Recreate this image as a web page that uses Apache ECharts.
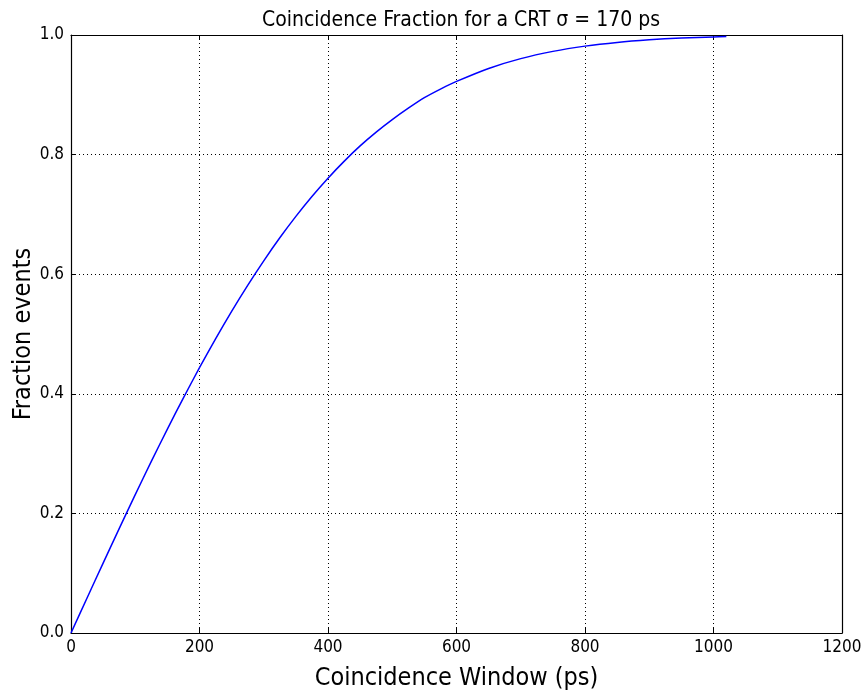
<!DOCTYPE html>
<html>
<head>
<meta charset="utf-8">
<script src="https://cdn.jsdelivr.net/npm/echarts@6/dist/echarts.min.js"></script>
<style>html,body{margin:0;padding:0;background:#fff}#c{width:865px;height:697px}</style>
</head>
<body>
<div id="c"></div>
<script>
const windowPs = [0,25,50,75,100,125,150,175,200,225,250,275,300,325,350,375,400,425,450,475,500,525,550,575,600,650,700,750,800,850,900,950,1000,1020];
const fraction = [0,0.0586,0.1169,0.1746,0.2313,0.2869,0.3410,0.3932,0.4436,0.4919,0.5379,0.5814,0.6224,0.6609,0.6967,0.7300,0.7606,0.7887,0.8145,0.8376,0.8585,0.8776,0.8952,0.9096,0.9224,0.9441,0.9605,0.9726,0.9814,0.9876,0.9919,0.9949,0.9968,0.9973];
const xTicks = [0,200,400,600,800,1000,1200];
const yTicks = [0.0,0.2,0.4,0.6,0.8,1.0];
const titleText = 'Coincidence Fraction for a CRT σ = 170 ps';
const xName = 'Coincidence Window (ps)';
const yName = 'Fraction events';

const FONT = '"Liberation Sans Narrow","DejaVu Sans Condensed","Open Sans",sans-serif';
const chart = echarts.init(document.getElementById('c'), null, {renderer:'canvas'});
const dotted = {color:'#000', width:1, type:[1,3]};
const tickIn = {show:true, inside:true, length:5, lineStyle:{color:'#000', width:1}};
const line = {show:true, onZero:false, lineStyle:{color:'#000', width:1.2}};
chart.setOption({
  animation:false,
  backgroundColor:'#fff',
  title:{text:titleText, left:456, top:5, textAlign:'center',
    textStyle:{fontFamily:FONT, fontSize:21, fontWeight:'normal', color:'#000'}},
  grid:{left:71, right:23, top:35, bottom:64, containLabel:false, outerBoundsMode:'none'},
  xAxis:[{type:'value', min:xTicks[0], max:xTicks[xTicks.length-1], interval:200,
      name:xName, nameLocation:'middle', nameGap:33, nameMoveOverlap:false,
      nameTextStyle:{fontFamily:FONT, fontSize:25, color:'#000'},
      axisLine:line, axisTick:tickIn,
      axisLabel:{fontFamily:FONT, fontSize:17, color:'#000', margin:6, formatter:v=>String(v)},
      splitLine:{show:true, lineStyle:dotted}},
    {type:'value', position:'top', min:xTicks[0], max:xTicks[xTicks.length-1], interval:200,
      axisLine:line, axisTick:tickIn, axisLabel:{show:false}, splitLine:{show:false}}],
  yAxis:[{type:'value', min:yTicks[0], max:yTicks[yTicks.length-1], interval:0.2,
      name:yName, nameLocation:'middle', nameGap:35, nameMoveOverlap:false,
      nameTextStyle:{fontFamily:FONT, fontSize:25, color:'#000'},
      axisLine:line, axisTick:tickIn,
      axisLabel:{fontFamily:FONT, fontSize:17, color:'#000', margin:7, formatter:v=>v.toFixed(1)},
      splitLine:{show:true, lineStyle:dotted}},
    {type:'value', position:'right', min:yTicks[0], max:yTicks[yTicks.length-1], interval:0.2,
      axisLine:line, axisTick:tickIn, axisLabel:{show:false}, splitLine:{show:false}}],
  series:[{type:'line', data:windowPs.map((w,i)=>[w,fraction[i]]), showSymbol:false,
    smooth:0.3, lineStyle:{color:'#0000ff', width:1.5}, clip:false}]
});
</script>
</body>
</html>
